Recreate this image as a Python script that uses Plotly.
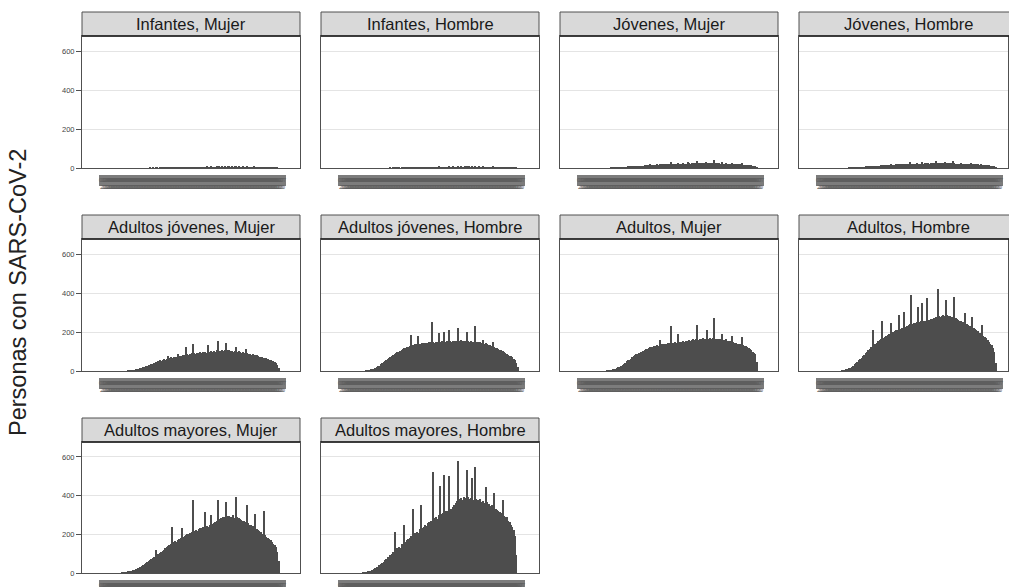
import pandas as pd
import plotly.graph_objects as go

# Daily counts of people with SARS-CoV-2, faceted by age group and sex
dias = pd.date_range("2020-03-01", periods=126, freq="D")
categorias = [d.strftime("%Y-%m-%d") for d in dias]
etiquetas = [d.strftime("%d-%m<br>%Y") for d in dias]

paneles = [
    "Infantes, Mujer", "Infantes, Hombre", "Jóvenes, Mujer", "Jóvenes, Hombre",
    "Adultos jóvenes, Mujer", "Adultos jóvenes, Hombre", "Adultos, Mujer", "Adultos, Hombre",
    "Adultos mayores, Mujer", "Adultos mayores, Hombre",
]

infantes_mujer = [
    0, 0, 0, 0, 0, 0, 0, 0, 0, 0, 0, 0, 0, 0,
    0, 0, 0, 0, 0, 0, 0, 0, 0, 0, 0, 0, 0, 0,
    0, 0, 0, 0, 1, 0, 1, 0, 1, 1, 0, 1, 1, 1,
    1, 2, 1, 1, 2, 1, 2, 2, 1, 2, 3, 2, 2, 3,
    2, 3, 3, 2, 3, 4, 3, 5, 3, 4, 3, 4, 5, 4,
    4, 5, 4, 6, 5, 4, 6, 5, 5, 4, 6, 5, 8, 5,
    6, 5, 6, 5, 7, 6, 5, 6, 5, 6, 7, 5, 6, 5,
    5, 6, 5, 4, 6, 5, 4, 5, 4, 6, 4, 5, 4, 3,
    4, 3, 5, 3, 3, 2, 3, 2, 2, 3, 2, 1, 1, 0,
]
infantes_hombre = [
    0, 0, 0, 0, 0, 0, 0, 0, 0, 0, 0, 0, 0, 0,
    0, 0, 0, 0, 0, 0, 0, 0, 0, 0, 0, 0, 0, 0,
    0, 0, 0, 0, 0, 1, 0, 1, 1, 0, 1, 1, 0, 1,
    1, 1, 2, 1, 2, 2, 1, 2, 2, 3, 2, 2, 3, 2,
    3, 3, 2, 3, 4, 3, 4, 5, 3, 4, 4, 3, 6, 4,
    4, 5, 4, 5, 5, 6, 4, 5, 6, 5, 5, 4, 7, 5,
    6, 5, 5, 6, 7, 5, 6, 5, 6, 5, 8, 5, 5, 6,
    5, 4, 6, 5, 4, 5, 5, 4, 4, 6, 4, 4, 3, 4,
    3, 4, 4, 3, 2, 3, 2, 2, 3, 2, 1, 2, 1, 0,
]
jovenes_mujer = [
    0, 0, 0, 0, 0, 0, 0, 0, 0, 0, 0, 0, 0, 0,
    0, 0, 0, 0, 0, 0, 1, 1, 1, 2, 2, 2, 3, 3,
    4, 4, 5, 5, 6, 6, 7, 7, 9, 8, 9, 10, 10, 11,
    12, 11, 13, 14, 13, 15, 19, 15, 16, 17, 16, 18, 17, 22,
    18, 19, 18, 20, 19, 21, 20, 30, 21, 20, 22, 21, 26, 22,
    23, 22, 28, 23, 22, 29, 24, 23, 25, 24, 25, 24, 38, 25,
    26, 24, 25, 27, 33, 25, 26, 24, 25, 26, 41, 25, 24, 24,
    25, 23, 30, 23, 22, 24, 22, 21, 22, 28, 21, 20, 20, 19,
    19, 18, 24, 17, 16, 16, 15, 14, 14, 13, 12, 11, 9, 4,
]
jovenes_hombre = [
    0, 0, 0, 0, 0, 0, 0, 0, 0, 0, 0, 0, 0, 0,
    0, 0, 0, 0, 0, 1, 1, 1, 2, 2, 2, 3, 3, 4,
    4, 5, 5, 6, 7, 7, 8, 9, 12, 9, 10, 11, 11, 12,
    13, 16, 14, 14, 15, 15, 16, 20, 16, 17, 17, 18, 18, 23,
    19, 19, 20, 20, 21, 20, 21, 31, 22, 21, 22, 22, 27, 22,
    23, 23, 29, 23, 24, 27, 24, 23, 24, 25, 24, 25, 35, 25,
    25, 24, 26, 25, 31, 25, 24, 25, 24, 24, 34, 24, 23, 23,
    23, 22, 28, 22, 21, 22, 21, 20, 20, 26, 20, 19, 19, 18,
    18, 17, 22, 16, 16, 15, 14, 14, 13, 12, 12, 11, 9, 5,
]
adultos_jovenes_mujer = [
    0, 0, 0, 0, 0, 0, 0, 0, 0, 0, 0, 0, 0, 0,
    0, 0, 1, 1, 2, 3, 4, 5, 7, 9, 12, 14, 17, 20,
    22, 25, 27, 30, 33, 36, 38, 41, 48, 45, 50, 56, 53, 59,
    61, 58, 64, 75, 66, 70, 68, 71, 74, 72, 88, 76, 79, 75,
    81, 83, 123, 86, 84, 89, 90, 138, 92, 88, 94, 91, 96, 93,
    97, 95, 99, 92, 133, 98, 101, 96, 103, 100, 106, 154, 104, 102,
    107, 105, 110, 144, 106, 108, 103, 105, 100, 104, 123, 98, 101, 95,
    93, 97, 90, 113, 91, 88, 86, 84, 89, 82, 80, 83, 77, 72,
    74, 70, 68, 65, 66, 60, 58, 55, 52, 50, 46, 41, 33, 14,
]
adultos_jovenes_hombre = [
    0, 0, 0, 0, 0, 0, 0, 0, 0, 0, 0, 0, 0, 0,
    0, 1, 2, 3, 5, 7, 9, 12, 15, 19, 24, 28, 34, 41,
    45, 50, 56, 61, 65, 70, 76, 80, 85, 91, 96, 100, 105, 110,
    113, 117, 120, 124, 125, 129, 185, 132, 135, 137, 138, 180, 141, 139,
    143, 145, 142, 146, 144, 148, 147, 250, 149, 146, 150, 148, 195, 151,
    153, 149, 200, 150, 152, 210, 154, 151, 155, 153, 156, 152, 220, 154,
    157, 153, 155, 152, 200, 156, 150, 153, 148, 151, 230, 149, 147, 146,
    148, 144, 160, 140, 143, 137, 135, 131, 128, 150, 124, 120, 117, 113,
    110, 106, 101, 97, 93, 88, 83, 79, 75, 70, 64, 55, 40, 18,
]
adultos_mujer = [
    0, 0, 0, 0, 0, 0, 0, 0, 0, 0, 0, 0, 0, 0,
    0, 0, 0, 1, 2, 3, 5, 7, 9, 12, 15, 19, 23, 28,
    33, 38, 43, 49, 54, 59, 64, 70, 75, 80, 85, 89, 94, 97,
    100, 104, 108, 111, 115, 118, 121, 124, 123, 127, 129, 132, 130, 160,
    136, 138, 137, 141, 140, 143, 142, 230, 145, 143, 147, 146, 190, 148,
    151, 149, 153, 150, 155, 152, 157, 156, 160, 162, 158, 164, 236, 161,
    165, 162, 167, 164, 163, 210, 166, 168, 164, 167, 272, 165, 163, 166,
    162, 164, 190, 161, 158, 162, 156, 154, 152, 180, 148, 146, 143, 141,
    139, 137, 175, 134, 130, 126, 121, 117, 112, 107, 100, 94, 86, 44,
]
adultos_hombre = [
    0, 0, 0, 0, 0, 0, 0, 0, 0, 0, 0, 0, 0, 0,
    1, 2, 4, 6, 9, 13, 17, 22, 28, 34, 41, 48, 56, 64,
    68, 75, 83, 91, 99, 106, 114, 121, 210, 133, 139, 146, 152, 158,
    163, 256, 170, 176, 180, 185, 190, 246, 197, 201, 204, 210, 208, 287,
    215, 219, 223, 303, 228, 232, 236, 239, 390, 243, 246, 245, 250, 328,
    252, 255, 350, 257, 259, 375, 262, 261, 265, 268, 271, 274, 278, 420,
    280, 279, 283, 285, 282, 364, 286, 284, 281, 279, 275, 380, 270, 266,
    262, 258, 255, 250, 246, 297, 240, 236, 231, 227, 277, 219, 214, 208,
    203, 197, 193, 236, 182, 176, 168, 159, 150, 140, 131, 120, 95, 40,
]
adultos_mayores_mujer = [
    0, 0, 0, 0, 0, 0, 0, 0, 0, 0, 0, 0, 1, 2,
    3, 4, 6, 7, 9, 12, 14, 17, 21, 24, 28, 31, 36, 42,
    46, 51, 55, 62, 66, 73, 78, 84, 120, 91, 98, 105, 110, 116,
    121, 128, 132, 139, 146, 150, 240, 158, 163, 160, 171, 176, 182, 230,
    188, 191, 196, 201, 199, 207, 214, 375, 219, 222, 217, 228, 233, 230,
    236, 240, 315, 244, 238, 247, 300, 252, 258, 263, 270, 375, 278, 282,
    286, 290, 288, 365, 293, 296, 291, 287, 298, 284, 395, 290, 282, 279,
    275, 271, 268, 262, 350, 259, 250, 246, 241, 236, 305, 229, 221, 215,
    210, 204, 320, 196, 188, 182, 175, 170, 162, 150, 143, 134, 110, 60,
]
adultos_mayores_hombre = [
    0, 0, 0, 0, 0, 0, 0, 0, 0, 0, 0, 0, 0, 1,
    2, 3, 4, 8, 9, 12, 17, 19, 24, 31, 33, 41, 45, 53,
    57, 66, 70, 81, 84, 95, 99, 110, 210, 121, 127, 135, 131, 148,
    152, 250, 158, 171, 176, 183, 190, 330, 199, 205, 214, 208, 226, 350,
    230, 236, 247, 241, 258, 262, 270, 266, 520, 284, 290, 281, 301, 450,
    305, 312, 505, 318, 322, 500, 333, 329, 342, 351, 360, 372, 578, 381,
    390, 378, 394, 386, 530, 392, 380, 388, 490, 375, 550, 384, 379, 371,
    382, 368, 374, 360, 445, 366, 355, 348, 352, 340, 415, 332, 327, 318,
    315, 309, 375, 296, 287, 290, 271, 262, 248, 237, 222, 190, 95, 0,
]

series = [
    infantes_mujer, infantes_hombre, jovenes_mujer, jovenes_hombre,
    adultos_jovenes_mujer, adultos_jovenes_hombre, adultos_mujer, adultos_hombre,
    adultos_mayores_mujer, adultos_mayores_hombre,
]
y_ticks = [0, 200, 400, 600]

# ---- layout geometry (pixels) ----
W, H = 1009, 587
COLS = [(82, 300), (321, 539), (560, 778), (799, 1017)]
ROWS = [(12, 36, 168), (215, 239, 371), (418, 442, 573)]  # strip top, panel top, panel bottom
PAD_L, PAD_R = 24, 21          # space between frame and first/last day
BAND = (7, 18, 7)              # top/bottom offset and overhang of the crowded date row

FONT = "Liberation Sans, Arial, Helvetica, sans-serif"
BAR = "#4d4d4d"
FRAME = "#505050"
GRID = "#e4e4e4"
STRIP = "#d9d9d9"
Y_MAX = 677

fig = go.Figure()
shapes, annotations = [], []
n = len(categorias)

for k, (titulo, valores) in enumerate(zip(paneles, series)):
    r, c = divmod(k, 4)
    x0, x1 = COLS[c]
    s_top, p_top, p_bot = ROWS[r]
    vis_x1 = min(x1, W - 1)
    upp = (n - 1) / ((x1 - x0) - PAD_L - PAD_R)
    lo = -PAD_L * upp
    hi = lo + (vis_x1 - x0) * upp
    sfx = "" if k == 0 else str(k + 1)

    fig.add_trace(go.Bar(
        x=categorias, y=valores, xaxis="x" + sfx, yaxis="y" + sfx,
        marker=dict(color=BAR, line=dict(width=0)), showlegend=False,
        hovertemplate="%{x}: %{y}<extra></extra>",
    ))

    # every day is labelled, so the labels pile up into a grey strip
    fig.layout["xaxis" + sfx] = dict(
        domain=[x0 / W, vis_x1 / W], anchor="y" + sfx, type="category",
        range=[lo, hi], tickmode="array", tickvals=categorias, ticktext=etiquetas,
        tickangle=0, tickfont=dict(family=FONT, size=5.5, color="#5e5e5e"),
        ticks="", ticklabelstandoff=6, showgrid=False, zeroline=False,
        showline=True, linecolor=FRAME, linewidth=1, mirror=True,
        fixedrange=True, automargin=False,
    )
    fig.layout["yaxis" + sfx] = dict(
        domain=[1 - p_bot / H, 1 - p_top / H], anchor="x" + sfx,
        range=[0, Y_MAX], tickmode="array", tickvals=y_ticks,
        showticklabels=(c == 0), ticks="outside" if c == 0 else "",
        ticklen=5, tickcolor=FRAME, tickwidth=1,
        tickfont=dict(family=FONT, size=7.5, color="#444444"),
        showgrid=True, gridcolor=GRID, gridwidth=1, zeroline=False,
        showline=True, linecolor=FRAME, linewidth=1, mirror=True,
        fixedrange=True, automargin=False,
    )

    # grey backing under the piled-up date labels
    b_top, b_bot, over = BAND
    shapes.append(dict(type="rect", xref="x" + sfx, yref="paper",
                       x0=-over * upp, x1=(n - 1) + over * upp,
                       y0=1 - (p_bot + b_bot) / H, y1=1 - (p_bot + b_top) / H,
                       fillcolor="#7c7c7c", line=dict(width=0), layer="below"))

    # facet strip
    shapes.append(dict(type="rect", xref="paper", yref="paper",
                       x0=x0 / W, x1=x1 / W, y0=1 - p_top / H, y1=1 - s_top / H,
                       fillcolor=STRIP, line=dict(color=FRAME, width=1), layer="above"))
    shapes.append(dict(type="line", xref="paper", yref="paper",
                       x0=x0 / W, x1=x1 / W, y0=1 - p_top / H, y1=1 - p_top / H,
                       line=dict(color="#1a1a1a", width=1.6), layer="above"))
    annotations.append(dict(text=titulo, xref="paper", yref="paper",
                            x=(x0 + x1) / 2 / W, y=1 - (s_top + p_top) / 2 / H,
                            xanchor="center", yanchor="middle", showarrow=False,
                            font=dict(family=FONT, size=16.5, color="#1a1a1a")))

annotations.append(dict(text="Personas con SARS-CoV-2", xref="paper", yref="paper",
                        x=18 / W, y=1 - 293 / H, textangle=-90,
                        xanchor="center", yanchor="middle", showarrow=False,
                        font=dict(family=FONT, size=23.5, color="#222222")))

fig.update_layout(
    width=W, height=H, margin=dict(l=0, r=0, t=0, b=0),
    paper_bgcolor="white", plot_bgcolor="white",
    bargap=0, barmode="overlay",
    shapes=shapes, annotations=annotations,
    font=dict(family=FONT),
)

fig.write_html("out.html")
